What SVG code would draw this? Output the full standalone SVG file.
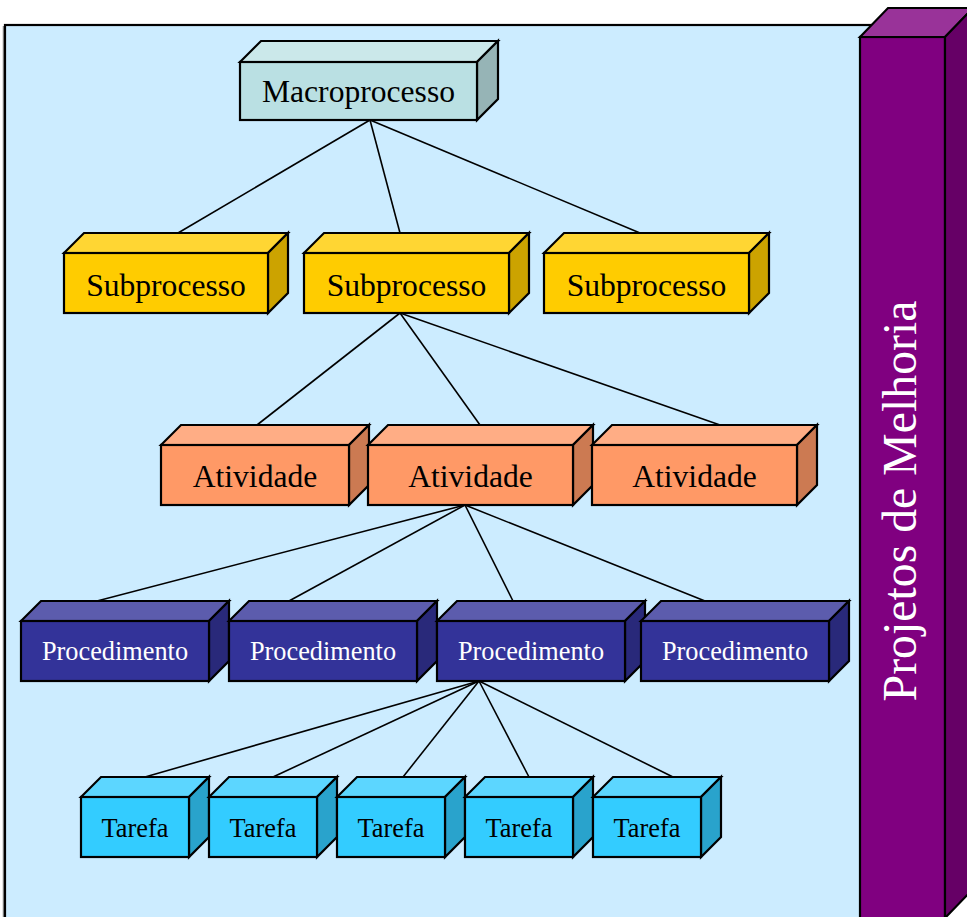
<svg xmlns="http://www.w3.org/2000/svg" width="967" height="917" viewBox="0 0 967 917">
<style>
.b{stroke:#000;stroke-width:2.2;stroke-linejoin:miter}
.c line{stroke:#000;stroke-width:1.6}
.t{font-family:"Liberation Serif","Times New Roman",serif;text-anchor:middle}
.l{font-size:31.6px;fill:#000}
.s{font-size:26.3px}
.macF{fill:#BAE0E3}.macT{fill:#CBE8EA}.macS{fill:#96B4B6}
.subF{fill:#FFCC00}.subT{fill:#FFD633}.subS{fill:#CCA300}
.atvF{fill:#FF9966}.atvT{fill:#FFAD85}.atvS{fill:#CC7A52}
.proF{fill:#333399}.proT{fill:#5C5CAD}.proS{fill:#29297A}
.tarF{fill:#33CCFF}.tarT{fill:#5CD6FF}.tarS{fill:#29A3CC}
</style>
<rect width="967" height="917" fill="#fff"/>
<g id="panel">
<line x1="3.5" y1="26" x2="3.5" y2="917" stroke="#888" stroke-width="1.5"/>
<rect x="5" y="25" width="870" height="910" fill="#CCECFF" stroke="#000" stroke-width="2.2"/>
</g>
<g id="bar">
<rect class="b" x="860" y="37" width="85" height="900" fill="#800080"/>
<polygon class="b" points="860,37 888,8 973,8 945,37" fill="#993399"/>
<polygon class="b" points="945,37 973,8 973,889 945,918" fill="#660066"/>
<text class="t" transform="translate(916,501) rotate(-90)" font-size="47.8" fill="#fff">Projetos de Melhoria</text>
</g>
<g id="connectors" class="c">
<line x1="370" y1="120" x2="178" y2="233"/>
<line x1="370" y1="120" x2="400" y2="233"/>
<line x1="370" y1="120" x2="640" y2="233"/>
<line x1="400" y1="313" x2="257" y2="425"/>
<line x1="400" y1="313" x2="480" y2="425"/>
<line x1="400" y1="313" x2="720" y2="425"/>
<line x1="465" y1="505" x2="97" y2="601"/>
<line x1="465" y1="505" x2="289" y2="601"/>
<line x1="465" y1="505" x2="513" y2="601"/>
<line x1="465" y1="505" x2="705" y2="601"/>
<line x1="479" y1="681" x2="145" y2="777"/>
<line x1="479" y1="681" x2="273" y2="777"/>
<line x1="479" y1="681" x2="403" y2="777"/>
<line x1="479" y1="681" x2="529" y2="777"/>
<line x1="479" y1="681" x2="673" y2="777"/>
</g>
<g id="macro">
<polygon class="b macT" points="240,62 261,41 498,41 477,62"/>
<polygon class="b macS" points="477,62 498,41 498,99 477,120"/>
<rect class="b macF" x="240" y="62" width="237" height="58"/>
<text class="t l" x="358.5" y="102">Macroprocesso</text>
</g>
<g id="sub1">
<polygon class="b subT" points="64,253 84,233 288,233 268,253"/>
<polygon class="b subS" points="268,253 288,233 288,293 268,313"/>
<rect class="b subF" x="64" y="253" width="204" height="60"/>
<text class="t l" x="166" y="296">Subprocesso</text>
</g>
<g id="sub2">
<polygon class="b subT" points="304,253 324,233 529,233 509,253"/>
<polygon class="b subS" points="509,253 529,233 529,293 509,313"/>
<rect class="b subF" x="304" y="253" width="205" height="60"/>
<text class="t l" x="406.5" y="296">Subprocesso</text>
</g>
<g id="sub3">
<polygon class="b subT" points="544,253 564,233 769,233 749,253"/>
<polygon class="b subS" points="749,253 769,233 769,293 749,313"/>
<rect class="b subF" x="544" y="253" width="205" height="60"/>
<text class="t l" x="646.5" y="296">Subprocesso</text>
</g>
<g id="atv1">
<polygon class="b atvT" points="161,445 181,425 369,425 349,445"/>
<polygon class="b atvS" points="349,445 369,425 369,485 349,505"/>
<rect class="b atvF" x="161" y="445" width="188" height="60"/>
<text class="t l" x="255" y="487">Atividade</text>
</g>
<g id="atv2">
<polygon class="b atvT" points="368,445 388,425 593,425 573,445"/>
<polygon class="b atvS" points="573,445 593,425 593,485 573,505"/>
<rect class="b atvF" x="368" y="445" width="205" height="60"/>
<text class="t l" x="470.5" y="487">Atividade</text>
</g>
<g id="atv3">
<polygon class="b atvT" points="592,445 612,425 817,425 797,445"/>
<polygon class="b atvS" points="797,445 817,425 817,485 797,505"/>
<rect class="b atvF" x="592" y="445" width="205" height="60"/>
<text class="t l" x="694.5" y="487">Atividade</text>
</g>
<g id="proc1">
<polygon class="b proT" points="21,621 41,601 229,601 209,621"/>
<polygon class="b proS" points="209,621 229,601 229,661 209,681"/>
<rect class="b proF" x="21" y="621" width="188" height="60"/>
<text class="t s" x="115" y="660" fill="#fff">Procedimento</text>
</g>
<g id="proc2">
<polygon class="b proT" points="229,621 249,601 437,601 417,621"/>
<polygon class="b proS" points="417,621 437,601 437,661 417,681"/>
<rect class="b proF" x="229" y="621" width="188" height="60"/>
<text class="t s" x="323" y="660" fill="#fff">Procedimento</text>
</g>
<g id="proc3">
<polygon class="b proT" points="437,621 457,601 645,601 625,621"/>
<polygon class="b proS" points="625,621 645,601 645,661 625,681"/>
<rect class="b proF" x="437" y="621" width="188" height="60"/>
<text class="t s" x="531" y="660" fill="#fff">Procedimento</text>
</g>
<g id="proc4">
<polygon class="b proT" points="641,621 661,601 849,601 829,621"/>
<polygon class="b proS" points="829,621 849,601 849,661 829,681"/>
<rect class="b proF" x="641" y="621" width="188" height="60"/>
<text class="t s" x="735" y="660" fill="#fff">Procedimento</text>
</g>
<g id="tar1">
<polygon class="b tarT" points="81,797 101,777 209,777 189,797"/>
<polygon class="b tarS" points="189,797 209,777 209,837 189,857"/>
<rect class="b tarF" x="81" y="797" width="108" height="60"/>
<text class="t s" x="135" y="837">Tarefa</text>
</g>
<g id="tar2">
<polygon class="b tarT" points="209,797 229,777 337,777 317,797"/>
<polygon class="b tarS" points="317,797 337,777 337,837 317,857"/>
<rect class="b tarF" x="209" y="797" width="108" height="60"/>
<text class="t s" x="263" y="837">Tarefa</text>
</g>
<g id="tar3">
<polygon class="b tarT" points="337,797 357,777 465,777 445,797"/>
<polygon class="b tarS" points="445,797 465,777 465,837 445,857"/>
<rect class="b tarF" x="337" y="797" width="108" height="60"/>
<text class="t s" x="391" y="837">Tarefa</text>
</g>
<g id="tar4">
<polygon class="b tarT" points="465,797 485,777 593,777 573,797"/>
<polygon class="b tarS" points="573,797 593,777 593,837 573,857"/>
<rect class="b tarF" x="465" y="797" width="108" height="60"/>
<text class="t s" x="519" y="837">Tarefa</text>
</g>
<g id="tar5">
<polygon class="b tarT" points="593,797 613,777 721,777 701,797"/>
<polygon class="b tarS" points="701,797 721,777 721,837 701,857"/>
<rect class="b tarF" x="593" y="797" width="108" height="60"/>
<text class="t s" x="647" y="837">Tarefa</text>
</g>
</svg>
